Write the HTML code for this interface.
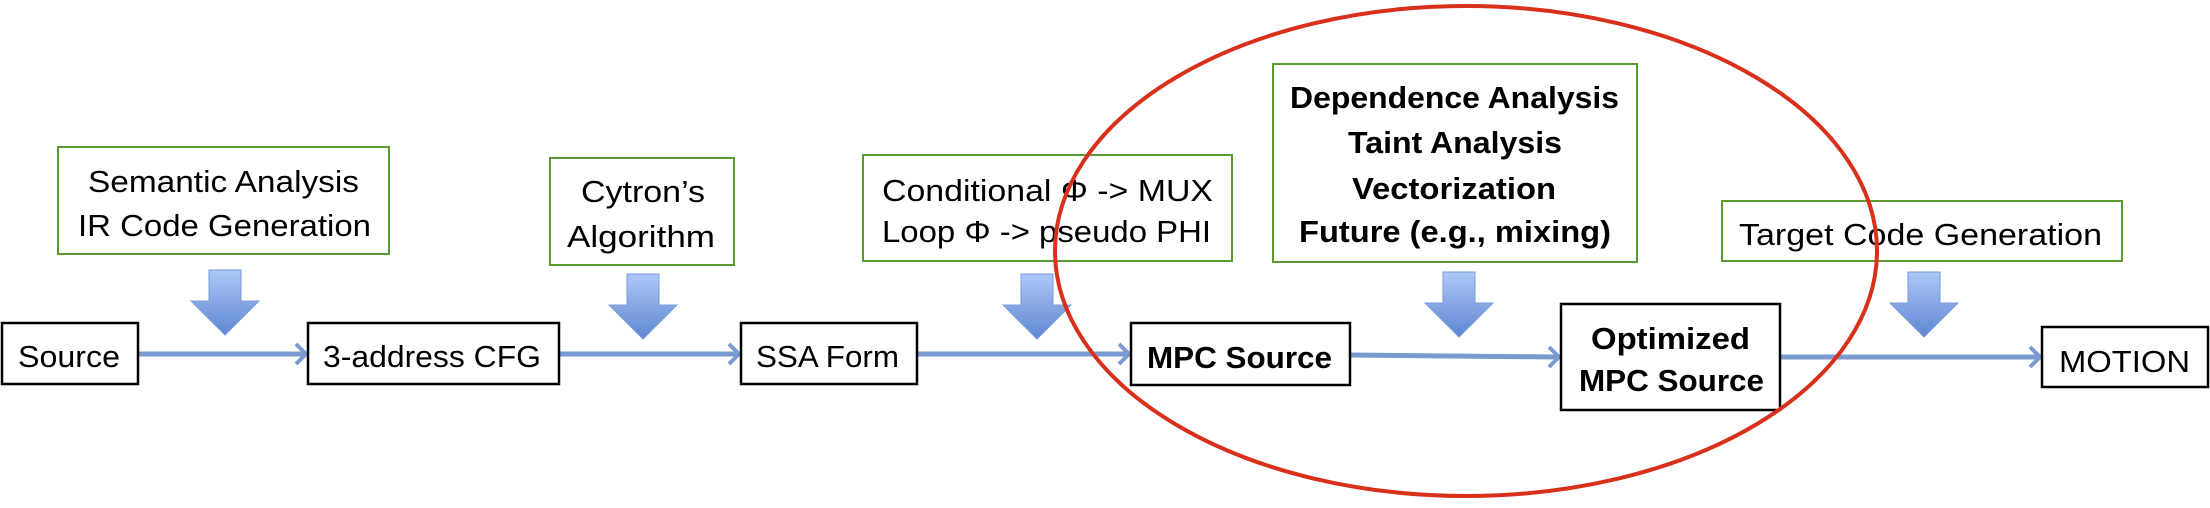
<!DOCTYPE html>
<html><head><meta charset="utf-8"><style>
html,body{margin:0;padding:0;background:#fff;}
svg{display:block;}
text{font-family:"Liberation Sans",sans-serif;font-size:31px;fill:#000;}
.b{font-weight:bold;}
</style></head><body>
<svg width="2210" height="508" viewBox="0 0 2210 508" xmlns="http://www.w3.org/2000/svg">
<defs>
<linearGradient id="g" x1="0" y1="0" x2="0" y2="1">
<stop offset="0" stop-color="#aec8f7"/><stop offset="1" stop-color="#5d87d2"/>
</linearGradient>
<g id="da"><polygon points="-16,0 16,0 16,31 34,31 0,65 -34,31 -16,31" fill="url(#g)" stroke="#7a9bd6" stroke-width="1"/></g>
</defs>
<g stroke="#7b9bd0" stroke-width="5" fill="none">
<line x1="138" y1="354" x2="304" y2="354"/>
<line x1="559" y1="354" x2="737" y2="354"/>
<line x1="917" y1="354" x2="1127" y2="354"/>
<line x1="1350" y1="355" x2="1557" y2="357"/>
<line x1="1780" y1="357" x2="2038" y2="357"/>
<polyline stroke-width="4" points="296,344 306,354 296,364"/>
<polyline stroke-width="4" points="729,344 739,354 729,364"/>
<polyline stroke-width="4" points="1119,344 1129,354 1119,364"/>
<polyline stroke-width="4" points="1549,347 1559,357 1549,367"/>
<polyline stroke-width="4" points="2030,347 2040,357 2030,367"/>
</g>
<use href="#da" x="225" y="270"/>
<use href="#da" x="643" y="274"/>
<use href="#da" x="1037" y="274"/>
<use href="#da" x="1459" y="272"/>
<use href="#da" x="1924" y="272"/>
<g fill="#fff" stroke="#000" stroke-width="2.5">
<rect x="2" y="323" width="136" height="61"/>
<rect x="308" y="323" width="251" height="61"/>
<rect x="741" y="323" width="176" height="61"/>
<rect x="1131" y="323" width="219" height="62"/>
<rect x="1561" y="304" width="219" height="106"/>
<rect x="2042" y="327" width="166" height="60"/>
</g>
<g fill="#fff" stroke="#5a9a30" stroke-width="2">
<rect x="58" y="147" width="331" height="107"/>
<rect x="550" y="158" width="184" height="107"/>
<rect x="863" y="155" width="369" height="106"/>
<rect x="1273" y="64" width="364" height="198"/>
<rect x="1722" y="201" width="400" height="60"/>
</g>
<g lengthAdjust="spacingAndGlyphs">
<text x="18" y="367" textLength="102" lengthAdjust="spacingAndGlyphs">Source</text>
<text x="323" y="367" textLength="218" lengthAdjust="spacingAndGlyphs">3-address CFG</text>
<text x="756" y="367" textLength="143" lengthAdjust="spacingAndGlyphs">SSA Form</text>
<text x="88" y="192" textLength="271" lengthAdjust="spacingAndGlyphs">Semantic Analysis</text>
<text x="78" y="236" textLength="293" lengthAdjust="spacingAndGlyphs">IR Code Generation</text>
<text x="581" y="202" textLength="124" lengthAdjust="spacingAndGlyphs">Cytron’s</text>
<text x="567" y="247" textLength="148" lengthAdjust="spacingAndGlyphs">Algorithm</text>
<text x="882" y="201" textLength="331" lengthAdjust="spacingAndGlyphs">Conditional Φ -&gt; MUX</text>
<text x="882" y="242" textLength="329" lengthAdjust="spacingAndGlyphs">Loop Φ -&gt; pseudo PHI</text>
<text class="b" x="1290" y="108" textLength="329" lengthAdjust="spacingAndGlyphs">Dependence Analysis</text>
<text class="b" x="1348" y="153" textLength="214" lengthAdjust="spacingAndGlyphs">Taint Analysis</text>
<text class="b" x="1352" y="199" textLength="204" lengthAdjust="spacingAndGlyphs">Vectorization</text>
<text class="b" x="1299" y="242" textLength="312" lengthAdjust="spacingAndGlyphs">Future (e.g., mixing)</text>
<text x="1739" y="245" textLength="363" lengthAdjust="spacingAndGlyphs">Target Code Generation</text>
<text class="b" x="1147" y="368" textLength="185" lengthAdjust="spacingAndGlyphs">MPC Source</text>
<text class="b" x="1591" y="349" textLength="159" lengthAdjust="spacingAndGlyphs">Optimized</text>
<text class="b" x="1579" y="391" textLength="185" lengthAdjust="spacingAndGlyphs">MPC Source</text>
<text x="2059" y="372" textLength="131" lengthAdjust="spacingAndGlyphs">MOTION</text>
</g>
<ellipse cx="1466" cy="251" rx="411" ry="245" fill="none" stroke="#d9301c" stroke-width="4"/>
</svg>
</body></html>
